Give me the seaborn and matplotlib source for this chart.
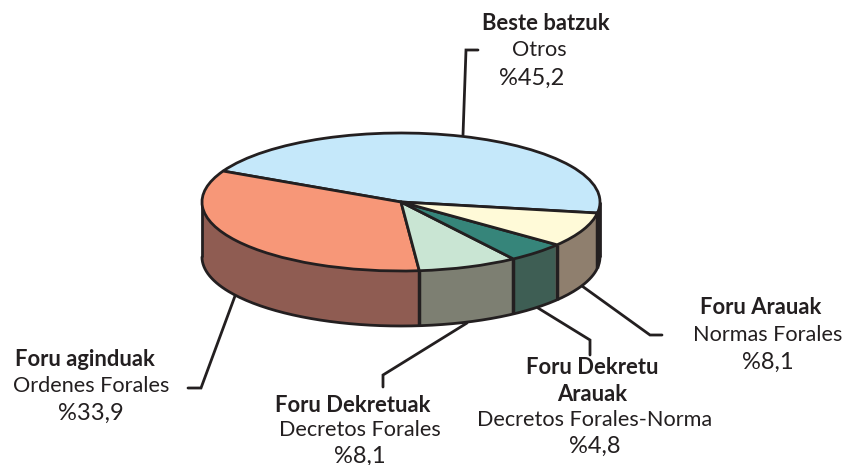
import numpy as np
import matplotlib
matplotlib.use("Agg")
import matplotlib.pyplot as plt
from matplotlib.lines import Line2D
import seaborn as sns

# --- data ---
categories_eu = ["Beste batzuk", "Foru aginduak", "Foru Dekretuak", "Foru Dekretu\nArauak", "Foru Arauak"]
categories_es = ["Otros", "Ordenes Forales", "Decretos Forales", "Decretos Forales-Norma", "Normas Forales"]
values = [45.2, 33.9, 8.1, 4.8, 8.1]
value_labels = ["%45,2", "%33,9", "%8,1", "%4,8", "%8,1"]
top_colors = ["#C5E8FA", "#F79778", "#C9E5D3", "#36857A", "#FFFAD8"]
wall_colors = ["#2A2E33", "#8F5C52", "#7D7F72", "#3E5E54", "#8F7F6E"]

W, H = 850, 465
CX, CY, RX, RY, DEPTH = 401, 202, 199, 69, 55
START = -9.2
INK = "#231F20"
LW = 2.0

sns.set_theme(style="white")
plt.rcParams["font.family"] = ["Lato", "DejaVu Sans"]

fig = plt.figure(figsize=(W / 100, H / 100), dpi=100, facecolor="white")
ax = fig.add_axes([0, 0, 1, 1])
depth_u = DEPTH / RY

# extruded side wall: stacked pies, deepest first
for px in range(DEPTH, 0, -1):
    ax.pie(values, colors=sns.color_palette(wall_colors), startangle=START, counterclock=True,
           center=(0, -px / RY), radius=1, wedgeprops=dict(linewidth=0))

# vertical edges of the wall, at the slice boundaries facing the viewer
bounds = START + np.cumsum(values) / np.sum(values) * 360
for angle in list(bounds[:-1]) + [START]:
    x, y = np.cos(np.radians(angle)), np.sin(np.radians(angle))
    if y < 0:
        ax.plot([x, x], [y, y - depth_u], color=INK, lw=LW + 0.5, solid_capstyle="butt", zorder=3)
ax.plot([-1, -1], [0, -depth_u], color=INK, lw=LW, solid_capstyle="butt", zorder=3)
ax.plot([1, 1], [0, -depth_u], color=INK, lw=LW, solid_capstyle="butt", zorder=3)

# lower rim of the wall
theta = np.radians(np.linspace(180, 360, 181))
ax.plot(np.cos(theta), np.sin(theta) - depth_u, color=INK, lw=LW, zorder=3)

# top surface
wedges, _ = ax.pie(values, colors=sns.color_palette(top_colors), startangle=START, counterclock=True,
                   center=(0, 0), radius=1,
                   wedgeprops=dict(linewidth=LW, edgecolor=INK, joinstyle="round"))
for w in wedges:
    w.set_zorder(4)

ax.set_aspect("auto")
ax.set_xlim((0 - CX) / RX, (W - CX) / RX)
ax.set_ylim((CY - H) / RY, CY / RY)
ax.axis("off")


def fx(x):
    return x / W


def fy(y):
    return 1 - y / H


# leader lines (pixel positions)
leaders = [
    [(463, 135), (466, 50), (478, 50)],
    [(235, 296), (201, 388), (188, 388)],
    [(467, 323), (383, 375), (383, 387)],
    [(538, 308), (590, 340), (590, 355)],
    [(582, 286), (650, 335), (662, 335)],
]
for pts in leaders:
    xs, ys = zip(*pts)
    fig.add_artist(Line2D([fx(x) for x in xs], [fy(y) for y in ys], transform=fig.transFigure,
                          color=INK, lw=LW, solid_joinstyle="miter", zorder=0))

# labels: bold Basque name, regular Spanish name, value (positions in pixels)
FS = 15.6
eu_pos = [(546, 24), (85, 360), (353, 405), (592, 381), (761, 308)]
es_pos = [(539, 50), (91, 386), (360, 430), (595, 420), (768, 335)]
val_pos = [(532, 78), (91, 413), (360, 456), (595, 446), (768, 362)]
for eu, es, val, pe, ps, pv in zip(categories_eu, categories_es, value_labels, eu_pos, es_pos, val_pos):
    fig.text(fx(pe[0]), fy(pe[1]), eu, ha="center", va="center", fontsize=15.8, fontweight="bold",
             color=INK, linespacing=1.3)
    fig.text(fx(ps[0]), fy(ps[1]), es, ha="center", va="center", fontsize=FS, color=INK)
    fig.text(fx(pv[0]), fy(pv[1]), val, ha="center", va="center", fontsize=17, color=INK)

fig.savefig("out.png", dpi=100, facecolor="white")
